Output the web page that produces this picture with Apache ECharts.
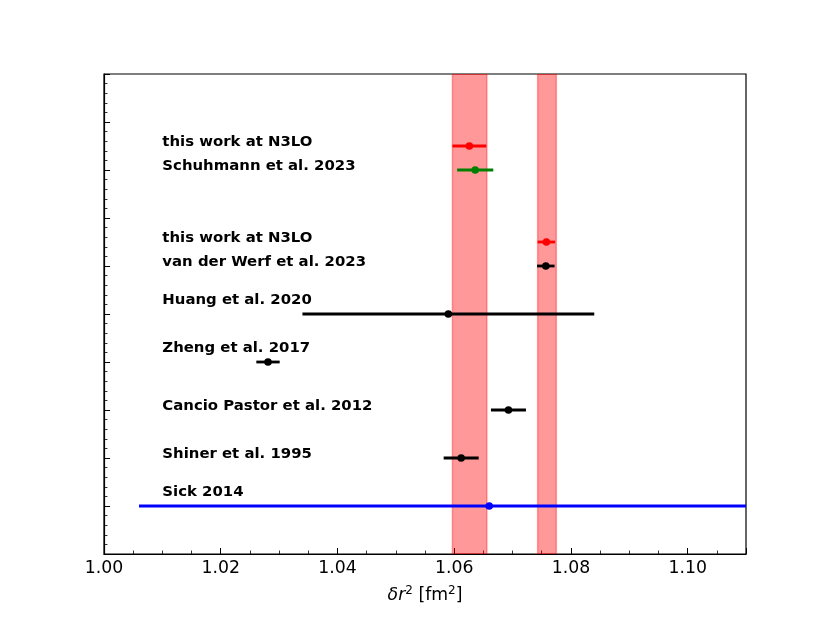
<!DOCTYPE html>
<html><head><meta charset="utf-8">
<script src="https://cdn.jsdelivr.net/npm/echarts@6/dist/echarts.min.js"></script>
<style>html,body{margin:0;padding:0;background:#fff}#c{width:830px;height:623px}</style>
</head><body><div id="c"></div>
<script>
// data
const pointNames = ['this work at N3LO (1)', 'Schuhmann et al. 2023', 'this work at N3LO (2)', 'van der Werf et al. 2023', 'Huang et al. 2020', 'Zheng et al. 2017', 'Cancio Pastor et al. 2012', 'Shiner et al. 1995', 'Sick 2014'];
const pointX = [1.0626, 1.0636, 1.0758, 1.0757, 1.0590, 1.0281, 1.0693, 1.0612, 1.0660];
const pointErr = [0.0029, 0.0031, 0.0015, 0.0015, 0.0250, 0.0020, 0.0030, 0.0030, 0.0600];
const pointY = [8.5, 8, 6.5, 6, 5, 4, 3, 2, 1];
const pointColor = ['#ff0000', '#008000', '#ff0000', '#000000', '#000000', '#000000', '#000000', '#000000', '#0000ff'];
const labelTexts = ['this work at N3LO', 'Schuhmann et al. 2023', 'this work at N3LO', 'van der Werf et al. 2023', 'Huang et al. 2020', 'Zheng et al. 2017', 'Cancio Pastor et al. 2012', 'Shiner et al. 1995', 'Sick 2014'];
const labelY = [8.5, 8.0, 6.5, 6.0, 5.2, 4.2, 3.0, 2.0, 1.2];
const labelX = 1.01;
const bands = [[1.0597, 1.0656], [1.0743, 1.0775]];
const xTicks = { min: 1.00, max: 1.11, interval: 0.02 };

const chart = echarts.init(document.getElementById('c'), null, { renderer: 'canvas' });
const font = 'DejaVu Sans';
const pts = pointX.map((x, i) => [x, pointY[i], pointErr[i], i]);
const lbls = labelTexts.map((t, i) => [labelX, labelY[i], t]);

chart.setOption({
  animation: false,
  backgroundColor: '#fff',
  grid: { left: 104, right: 84, top: 74, bottom: 69, show: true, borderColor: '#000', borderWidth: 1.2, backgroundColor: 'transparent' },
  xAxis: {
    type: 'value', min: xTicks.min, max: xTicks.max, interval: xTicks.interval,
    name: '{i|δr}{s|2} [fm{s|2}]', nameLocation: 'middle', nameGap: 31,
    nameTextStyle: { fontFamily: font, fontSize: 17.3, color: '#000',
      rich: { i: { fontFamily: font, fontStyle: 'italic', fontSize: 17.3, color: '#000' }, s: { fontFamily: font, fontSize: 12, verticalAlign: 'bottom', padding: [0, 0, 9, 0], color: '#000' } } },
    axisLine: { show: true, onZero: false, lineStyle: { color: '#000', width: 1.2 } },
    axisTick: { show: true, inside: true, length: 6, lineStyle: { color: '#000', width: 1 } },
    minorTick: { show: true, splitNumber: 4, length: 3.5, lineStyle: { color: '#000', width: 0.8 } },
    axisLabel: { fontFamily: font, fontSize: 17.3, color: '#000', margin: 6, showMaxLabel: false, formatter: v => v.toFixed(2) },
    splitLine: { show: false }
  },
  yAxis: {
    type: 'value', min: 0, max: 10, interval: 1,
    axisLine: { show: true, onZero: false, lineStyle: { color: '#000', width: 1.2 } },
    axisTick: { show: true, inside: true, length: 6, lineStyle: { color: '#000', width: 1 } },
    minorTick: { show: true, splitNumber: 5, length: 3.5, lineStyle: { color: '#000', width: 0.8 } },
    axisLabel: { show: false },
    splitLine: { show: false }
  },
  series: [
    {
      type: 'custom', clip: true, z: 1,
      data: bands.map(b => [b[0], b[1]]),
      renderItem: (params, api) => {
        const p0 = api.coord([api.value(0), 10]);
        const p1 = api.coord([api.value(1), 0]);
        return { type: 'rect', shape: { x: p0[0], y: p0[1], width: p1[0] - p0[0], height: p1[1] - p0[1] },
          style: { fill: 'rgba(255,0,0,0.4)', stroke: 'rgba(255,0,0,0.35)', lineWidth: 1.5 } };
      }
    },
    {
      type: 'custom', clip: true, z: 3,
      data: pts,
      renderItem: (params, api) => {
        const x = api.value(0), y = api.value(1), e = api.value(2), i = api.value(3);
        const a = api.coord([x - e, y]), b = api.coord([x + e, y]), c = api.coord([x, y]);
        const col = pointColor[i];
        return { type: 'group', children: [
          { type: 'line', shape: { x1: a[0], y1: a[1], x2: b[0], y2: b[1] }, style: { stroke: col, lineWidth: 2.8 } },
          { type: 'circle', shape: { cx: c[0], cy: c[1], r: 3.8 }, style: { fill: col } }
        ] };
      }
    },
    {
      type: 'custom', clip: false, z: 4,
      data: lbls,
      renderItem: (params, api) => {
        const p = api.coord([api.value(0), api.value(1)]);
        return { type: 'text', x: p[0], y: p[1] - 4,
          style: { text: lbls[params.dataIndex][2], fill: '#000', font: 'bold 14.9px "DejaVu Sans"', textAlign: 'left', textVerticalAlign: 'middle' } };
      }
    }
  ]
});
</script>
</body></html>
